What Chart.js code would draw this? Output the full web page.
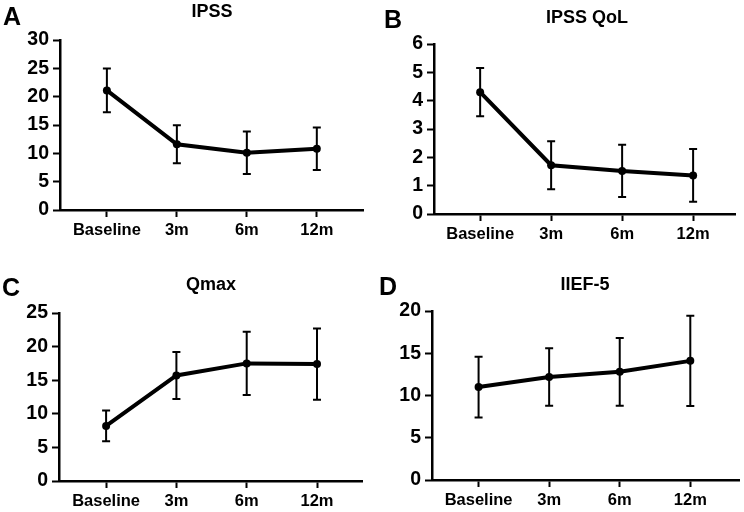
<!DOCTYPE html>
<html lang="en">
<head>
    <meta charset="UTF-8">
    <title>IPSS, QoL, Qmax, IIEF-5 over time</title>
    <script src="https://cdn.jsdelivr.net/npm/chart.js"></script>
    <style>
        body {
            margin: 0;
            background: white;
            font-family: "Liberation Sans", Arial, sans-serif;
            font-weight: bold;
            color: black;
        }
        .wrap { position: relative; width: 744px; height: 512px; overflow: hidden; }
        canvas { position: absolute; }
        .letter { position: absolute; font-size: 25px; line-height: 25px; }
        .title { position: absolute; font-size: 18px; line-height: 18px; width: 300px; text-align: center; }
    </style>
</head>
<body>
<div class="wrap">
    <canvas id="chartA" width="372" height="250" style="left:0;top:0"></canvas>
    <canvas id="chartB" width="372" height="250" style="left:372px;top:0"></canvas>
    <canvas id="chartC" width="372" height="262" style="left:0;top:250px"></canvas>
    <canvas id="chartD" width="372" height="262" style="left:372px;top:250px"></canvas>

    <div class="letter" style="left:3px;top:4px">A</div>
    <div class="letter" style="left:384px;top:7px">B</div>
    <div class="letter" style="left:2px;top:275px">C</div>
    <div class="letter" style="left:379px;top:274px">D</div>

    <div class="title" style="left:62px;top:2px">IPSS</div>
    <div class="title" style="left:437px;top:8px">IPSS QoL</div>
    <div class="title" style="left:61px;top:275px">Qmax</div>
    <div class="title" style="left:435px;top:275px">IIEF-5</div>
</div>

<script>
    const categories = ['Baseline', '3m', '6m', '12m'];

    const ipssMean = [21.1, 11.6, 10.1, 10.8];
    const ipssSd = [3.85, 3.35, 3.75, 3.75];

    const qolMean = [4.3, 1.72, 1.52, 1.36];
    const qolSd = [0.85, 0.85, 0.92, 0.93];

    const qmaxMean = [8.2, 15.7, 17.5, 17.4];
    const qmaxSd = [2.3, 3.5, 4.7, 5.3];

    const iiefMean = [11.0, 12.2, 12.8, 14.1];
    const iiefSd = [3.6, 3.4, 4.0, 5.35];

    const FONT = '"Liberation Sans", Arial, sans-serif';

    // draws mean +/- SD whiskers with caps
    const errorBars = {
        id: 'errorBars',
        afterDatasetsDraw(chart) {
            const sd = chart.options.plugins.errorBars.sd;
            const ds = chart.data.datasets[0].data;
            const xs = chart.scales.x, ys = chart.scales.y;
            const ctx = chart.ctx;
            ctx.save();
            ctx.strokeStyle = 'black';
            ctx.lineWidth = 2;
            ds.forEach((p, i) => {
                const x = xs.getPixelForValue(p.x);
                const top = ys.getPixelForValue(p.y + sd[i]);
                const bot = ys.getPixelForValue(p.y - sd[i]);
                ctx.beginPath();
                ctx.moveTo(x, top); ctx.lineTo(x, bot);
                ctx.moveTo(x - 4, top); ctx.lineTo(x + 4, top);
                ctx.moveTo(x - 4, bot); ctx.lineTo(x + 4, bot);
                ctx.stroke();
            });
            ctx.restore();
        }
    };

    function createChart(id, means, sds, yMax, step, box) {
        return new Chart(document.getElementById(id), {
            type: 'line',
            data: {
                datasets: [{
                    data: means.map((v, i) => ({ x: i, y: v })),
                    borderColor: 'black',
                    backgroundColor: 'black',
                    borderWidth: 4,
                    pointRadius: 4,
                    pointBorderWidth: 0,
                    pointBackgroundColor: 'black',
                    tension: 0
                }]
            },
            options: {
                responsive: false,
                animation: false,
                layout: { padding: { top: box.top, right: box.right, left: 0, bottom: 0 } },
                plugins: {
                    legend: { display: false },
                    tooltip: { enabled: false },
                    errorBars: { sd: sds }
                },
                scales: {
                    x: {
                        type: 'linear',
                        min: box.xmin,
                        max: box.xmax,
                        afterBuildTicks: s => { s.ticks = categories.map((c, i) => ({ value: i })); },
                        afterFit: s => { s.height = box.bottom; },
                        ticks: {
                            callback: v => categories[v],
                            color: 'black',
                            padding: 4,
                            maxRotation: 0,
                            autoSkip: false,
                            font: { family: FONT, size: 16.5, weight: 'bold' }
                        },
                        grid: { drawOnChartArea: false, tickLength: 7, tickWidth: 2, tickColor: 'black' },
                        border: { color: 'black', width: 2.5 }
                    },
                    y: {
                        min: 0,
                        max: yMax,
                        afterFit: s => { s.width = box.left; },
                        ticks: {
                            stepSize: step,
                            color: 'black',
                            padding: 4,
                            font: { family: FONT, size: 19.5, weight: 'bold' }
                        },
                        grid: { drawOnChartArea: false, tickLength: 7, tickWidth: 2, tickColor: 'black' },
                        border: { color: 'black', width: 2.5 }
                    }
                }
            },
            plugins: [errorBars]
        });
    }

    createChart('chartA', ipssMean, ipssSd, 30, 5,
        { left: 60, right: 9, top: 40, bottom: 40, xmin: -0.67, xmax: 3.66 });
    createChart('chartB', qolMean, qolSd, 6, 1,
        { left: 62, right: 9, top: 44, bottom: 36, xmin: -0.65, xmax: 3.59 });
    createChart('chartC', qmaxMean, qmaxSd, 25, 5,
        { left: 59, right: 10, top: 63, bottom: 31, xmin: -0.67, xmax: 3.64 });
    createChart('chartD', iiefMean, iiefSd, 20, 5,
        { left: 60, right: 5, top: 61, bottom: 32, xmin: -0.66, xmax: 3.69 });
</script>
</body>
</html>
